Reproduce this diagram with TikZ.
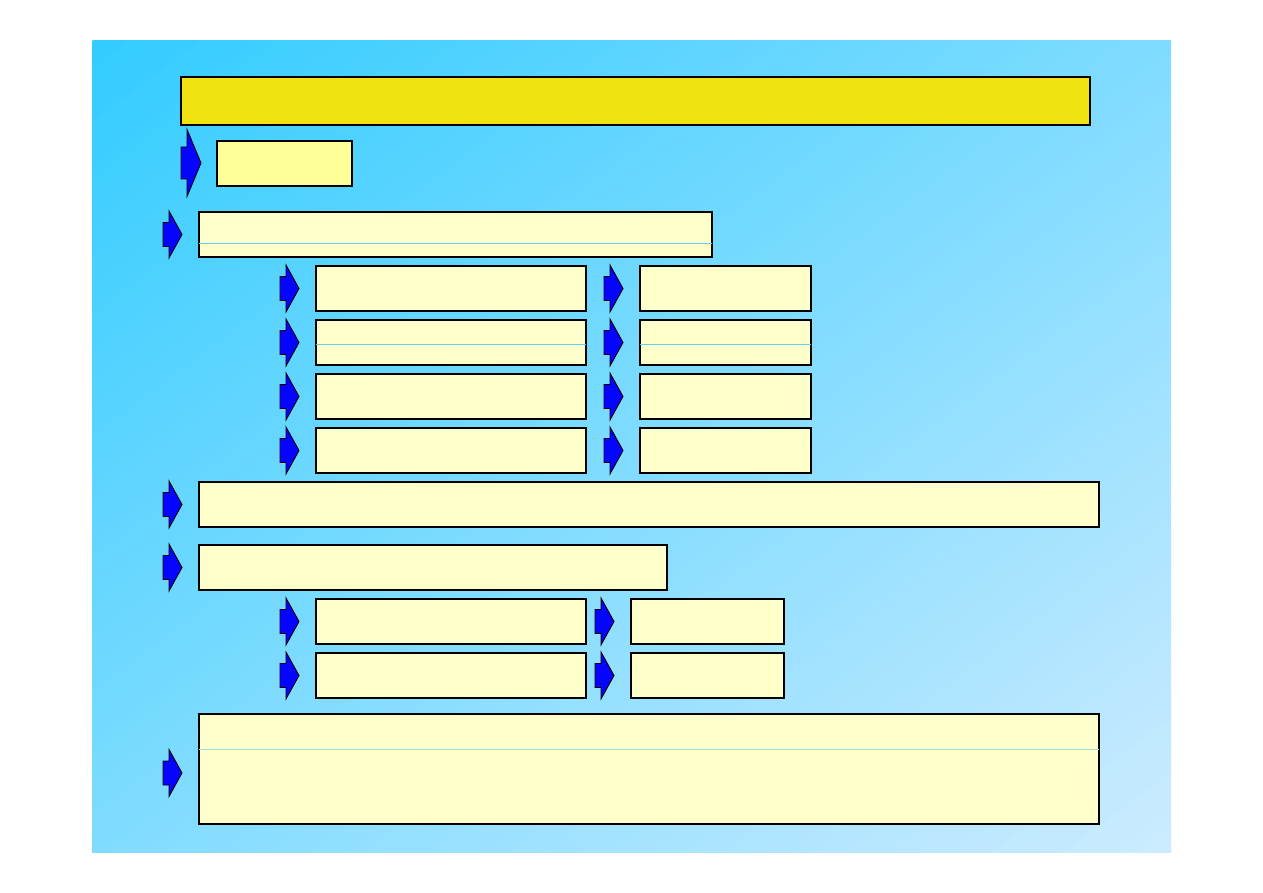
\documentclass[tikz,border=0pt]{standalone}
\definecolor{bgA}{HTML}{33CCFF}
\definecolor{bgB}{HTML}{CCEBFF}
\definecolor{titlefill}{HTML}{F0E311}
\definecolor{boxA}{HTML}{FFFF99}
\definecolor{boxfill}{HTML}{FFFFCC}
\definecolor{arrowfill}{HTML}{0505FF}
\definecolor{faintline}{HTML}{66CCF0}
\begin{document}
\begin{tikzpicture}[x=1pt,y=-1pt,
  box/.style={draw=black, line width=1.2pt, fill=boxfill, inner sep=0pt, outer sep=0pt, anchor=north west},
  faint/.style={draw=faintline, line width=0.8pt},
  pics/sarrow/.style={code={
    \draw[fill=arrowfill, draw=black, line width=0.9pt, line join=miter]
      (0,-12) -- (6,-12) -- (6,-23.5) -- (19,0) -- (6,23.5) -- (6,12) -- (0,12) -- cycle;}},
  pics/larrow/.style={code={
    \draw[fill=arrowfill, draw=black, line width=0.9pt, line join=miter]
      (0,-16) -- (6,-16) -- (6,-33.5) -- (20,0) -- (6,33.5) -- (6,16) -- (0,16) -- cycle;}}
]
\useasboundingbox (0,0) rectangle (1263,893);
% diagonal gradient background
\begin{scope}
  \clip (92,41) rectangle (1171,852);
  \begin{scope}[shift={(92,41)}, rotate=-53.07]
    \foreach \i in {0,...,119}{
      \pgfmathsetmacro\p{100-\i/119*100}
      \fill[bgA!\p!bgB] (\i*10.81,-1500) rectangle (\i*10.81+11.5,1500);
    }
  \end{scope}
\end{scope}

% title
\node[box, fill=titlefill, minimum width=909pt, minimum height=48pt] (title) at (181,77) {};

% box A
\pic (arA) at (181,163) {larrow};
\node[box, fill=boxA, minimum width=135pt, minimum height=45pt] (A) at (217,141) {};

% box B
\pic (arB) at (163,234.5) {sarrow};
\node[box, minimum width=513pt, minimum height=45pt] (B) at (199,212) {};
\draw[faint] ([yshift=-31pt]B.north west) -- ([yshift=-31pt]B.north east);

% group 1 rows
\foreach \y [count=\i] in {266,320,374,428}{
  \pic (arL\i) at (280,\y+22.5) {sarrow};
  \node[box, minimum width=270pt, minimum height=45pt] (L\i) at (316,\y) {};
  \pic (arR\i) at (604,\y+22.5) {sarrow};
  \node[box, minimum width=171pt, minimum height=45pt] (R\i) at (640,\y) {};
}
\draw[faint] ([yshift=-24pt]L2.north west) -- ([yshift=-24pt]L2.north east);
\draw[faint] ([yshift=-24pt]R2.north west) -- ([yshift=-24pt]R2.north east);

% box C
\pic (arC) at (163,504.5) {sarrow};
\node[box, minimum width=900pt, minimum height=45pt] (C) at (199,482) {};

% box D
\pic (arD) at (163,567.5) {sarrow};
\node[box, minimum width=468pt, minimum height=45pt] (D) at (199,545) {};

% group 2 rows
\foreach \y [count=\i] in {599,653}{
  \pic (arM\i) at (280,\y+22.5) {sarrow};
  \node[box, minimum width=270pt, minimum height=45pt] (M\i) at (316,\y) {};
  \pic (arN\i) at (595,\y+22.5) {sarrow};
  \node[box, minimum width=153pt, minimum height=45pt] (N\i) at (631,\y) {};
}

% box E
\pic (arE) at (163,773) {sarrow};
\node[box, minimum width=900pt, minimum height=110pt] (E) at (199,714) {};
\draw[faint, draw=faintline!60!boxfill] ([yshift=-35pt]E.north west) -- ([yshift=-35pt]E.north east);
\end{tikzpicture}
\end{document}
